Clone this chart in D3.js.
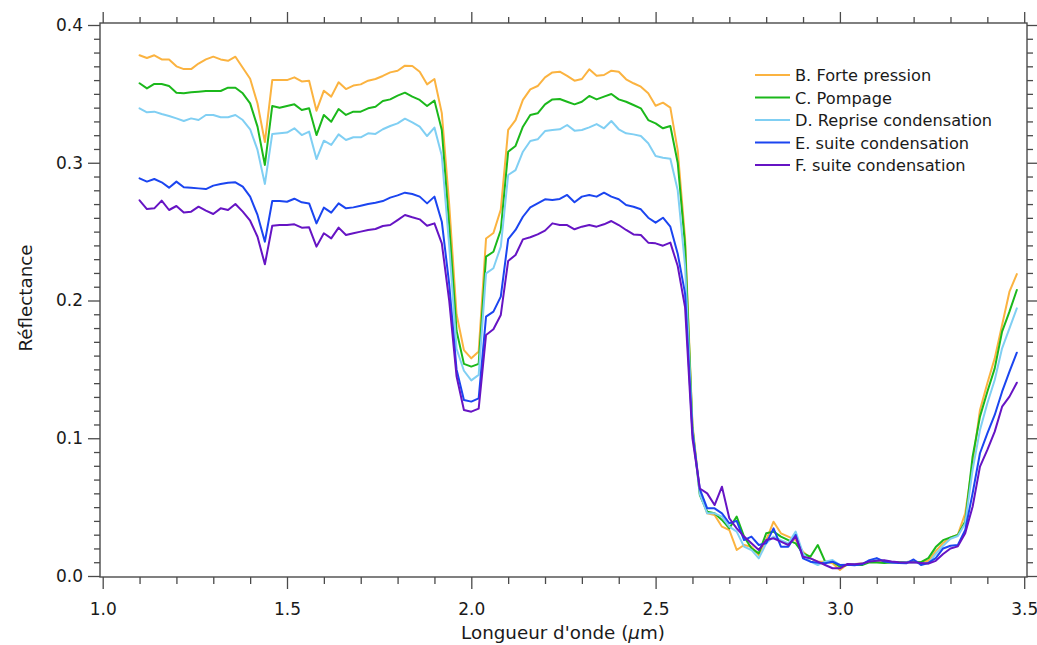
<!DOCTYPE html>
<html>
<head>
<meta charset="utf-8">
<script src="https://cdn.jsdelivr.net/npm/d3@7"></script>
<style>
  body { margin: 0; background: #fff; }
  svg { display: block; }
  text { font-family: "DejaVu Sans", Verdana, sans-serif; fill: #1a1a1a; }
</style>
</head>
<body>
<svg id="chart" width="1037" height="645"></svg>
<script>
// ---------- DATA ----------
const wavelengths = [
  1.10,1.12,1.14,1.16,1.18,1.20,1.22,1.24,1.26,1.28,1.30,1.32,1.34,1.36,1.38,1.40,1.42,1.44,1.46,1.48,
  1.50,1.52,1.54,1.56,1.58,1.60,1.62,1.64,1.66,1.68,1.70,1.72,1.74,1.76,1.78,1.80,1.82,1.84,1.86,1.88,
  1.90,1.92,1.94,1.96,1.98,2.00,2.02,2.04,2.06,2.08,2.10,2.12,2.14,2.16,2.18,2.20,2.22,2.24,2.26,2.28,
  2.30,2.32,2.34,2.36,2.38,2.40,2.42,2.44,2.46,2.48,2.50,2.52,2.54,2.56,2.58,2.60,2.62,2.64,2.66,2.68,
  2.70,2.72,2.74,2.76,2.78,2.80,2.82,2.84,2.86,2.88,2.90,2.92,2.94,2.96,2.98,3.00,3.02,3.04,3.06,3.08,
  3.10,3.12,3.14,3.16,3.18,3.20,3.22,3.24,3.26,3.28,3.30,3.32,3.34,3.36,3.38,3.40,3.42,3.44,3.46,3.48
];

const seriesNames = [
  "B. Forte pression",
  "C. Pompage",
  "D. Reprise condensation",
  "E. suite condensation",
  "F. suite condensation"
];
const seriesColors = ["#FBB340", "#1BB81B", "#80CFF3", "#1B45F0", "#6614C4"];

const valuesB = [
  0.378,0.376,0.378,0.375,0.375,0.370,0.368,0.368,0.372,0.375,0.377,0.375,0.374,0.377,0.369,0.361,0.343,0.315,0.360,0.360,
  0.360,0.362,0.359,0.3596,0.3378,0.3523,0.3480,0.3584,0.3535,0.3560,0.3569,0.3596,0.3608,0.3630,0.3656,0.3668,0.3705,0.3702,0.3661,0.3569,
  0.3608,0.336,0.270,0.190,0.164,0.158,0.163,0.245,0.249,0.266,0.3238,0.3310,0.3456,0.3533,0.3557,0.3620,0.3656,0.3661,0.3630,0.3596,
  0.3608,0.3678,0.3632,0.3637,0.3668,0.3661,0.3606,0.3577,0.3552,0.3504,0.3414,0.3436,0.3400,0.309,0.245,0.110,0.060,0.0455,0.0443,0.0358,
  0.0334,0.0189,0.0225,0.0213,0.0152,0.0261,0.0394,0.0310,0.0286,0.0261,0.0176,0.0128,0.0104,0.0104,0.0092,0.0044,0.0085,0.0087,0.0090,0.0102,
  0.0110,0.0110,0.0100,0.0097,0.0098,0.0100,0.0100,0.0110,0.0180,0.0240,0.0280,0.0300,0.0455,0.0818,0.1205,0.1399,0.1580,0.1822,0.2064,0.2192
];
const valuesC = [
  0.3577,0.3540,0.3572,0.3572,0.3557,0.3509,0.3504,0.3511,0.3516,0.3521,0.3521,0.3521,0.3545,0.3545,0.3504,0.3431,0.3262,0.2984,0.3412,0.3400,
  0.3412,0.3424,0.3383,0.3395,0.3201,0.3347,0.3298,0.3390,0.3347,0.3371,0.3371,0.3395,0.3407,0.3448,0.3460,0.3487,0.3509,0.3480,0.3456,0.3412,
  0.3451,0.3238,0.255,0.178,0.154,0.152,0.154,0.2318,0.2354,0.2512,0.3080,0.3122,0.3262,0.3347,0.3359,0.3424,0.3460,0.3463,0.3443,0.3424,
  0.3443,0.3485,0.3460,0.3480,0.3499,0.3460,0.3443,0.3419,0.3395,0.3310,0.3286,0.3250,0.3267,0.300,0.240,0.108,0.0588,0.0467,0.0455,0.0407,
  0.0346,0.0431,0.0286,0.0201,0.0164,0.0310,0.0322,0.0286,0.0261,0.0237,0.0164,0.0140,0.0225,0.0104,0.0104,0.0068,0.0080,0.0082,0.0080,0.0100,
  0.0098,0.0095,0.0098,0.0100,0.0102,0.0105,0.0100,0.0130,0.0210,0.0260,0.0280,0.0298,0.0395,0.0866,0.1157,0.1338,0.1507,0.1774,0.1919,0.2076
];
const valuesD = [
  0.3395,0.3366,0.3371,0.3354,0.3339,0.3322,0.3303,0.3322,0.3310,0.3347,0.3347,0.3330,0.3330,0.3347,0.3310,0.3243,0.3093,0.2846,0.3209,0.3214,
  0.3219,0.3250,0.3201,0.3226,0.3027,0.3160,0.3129,0.3206,0.3165,0.3185,0.3185,0.3214,0.3209,0.3243,0.3267,0.3286,0.3320,0.3293,0.3262,0.3194,
  0.3255,0.3050,0.240,0.165,0.149,0.142,0.146,0.2197,0.2234,0.2391,0.2911,0.2947,0.3080,0.3158,0.3170,0.3230,0.3238,0.3243,0.3274,0.3233,
  0.3238,0.3257,0.3281,0.3250,0.3303,0.3243,0.3214,0.3206,0.3194,0.3141,0.3049,0.3037,0.3029,0.280,0.225,0.106,0.0595,0.0455,0.0455,0.0431,
  0.0358,0.0322,0.0213,0.0189,0.0128,0.0237,0.0286,0.0261,0.0237,0.0322,0.0164,0.0104,0.0080,0.0104,0.0116,0.0080,0.0080,0.0085,0.0088,0.0110,
  0.0125,0.0110,0.0100,0.0095,0.0100,0.0098,0.0095,0.0090,0.0160,0.0220,0.0270,0.0290,0.0382,0.0770,0.1060,0.1254,0.1423,0.1653,0.1798,0.1943
];
const valuesE = [
  0.2887,0.2863,0.2882,0.2858,0.2819,0.2863,0.2822,0.2819,0.2814,0.2809,0.2834,0.2846,0.2855,0.2858,0.2826,0.2754,0.2621,0.2427,0.2722,0.2722,
  0.2717,0.2739,0.2713,0.2705,0.2560,0.2674,0.2638,0.2705,0.2669,0.2676,0.2688,0.2701,0.2710,0.2722,0.2747,0.2763,0.2783,0.2773,0.2754,0.2705,
  0.2754,0.2572,0.212,0.150,0.1278,0.1266,0.1290,0.1883,0.1919,0.2028,0.2446,0.2512,0.2608,0.2676,0.2705,0.2735,0.2730,0.2737,0.2766,0.2713,
  0.2754,0.2766,0.2754,0.2783,0.2754,0.2735,0.2693,0.2681,0.2662,0.2601,0.2565,0.2601,0.2536,0.234,0.205,0.104,0.0630,0.0491,0.0491,0.0455,
  0.0383,0.0400,0.0261,0.0286,0.0225,0.0237,0.0346,0.0213,0.0213,0.0298,0.0128,0.0104,0.0097,0.0092,0.0104,0.0080,0.0082,0.0078,0.0085,0.0115,
  0.0130,0.0105,0.0098,0.0095,0.0092,0.0120,0.0080,0.0095,0.0130,0.0200,0.0220,0.0225,0.0334,0.0600,0.0891,0.1036,0.1169,0.1338,0.1483,0.1621
];
const valuesF = [
  0.2727,0.2664,0.2669,0.2725,0.2657,0.2686,0.2638,0.2645,0.2681,0.2652,0.2628,0.2669,0.2657,0.2701,0.2645,0.2579,0.2463,0.2263,0.2543,0.2548,
  0.2548,0.2553,0.2529,0.2531,0.2391,0.2488,0.2451,0.2529,0.2475,0.2488,0.2500,0.2512,0.2519,0.2541,0.2548,0.2584,0.2621,0.2604,0.2589,0.2543,
  0.2560,0.2415,0.200,0.145,0.1205,0.1193,0.1215,0.1750,0.1791,0.1895,0.2287,0.2330,0.2444,0.2459,0.2480,0.2507,0.2560,0.2548,0.2548,0.2517,
  0.2536,0.2548,0.2536,0.2553,0.2577,0.2548,0.2512,0.2480,0.2475,0.2420,0.2415,0.2398,0.2420,0.225,0.195,0.100,0.0635,0.0600,0.0515,0.0648,
  0.0419,0.0346,0.0286,0.0237,0.0189,0.0261,0.0274,0.0249,0.0225,0.0286,0.0140,0.0128,0.0104,0.0080,0.0056,0.0056,0.0087,0.0085,0.0090,0.0105,
  0.0110,0.0115,0.0105,0.0100,0.0098,0.0100,0.0095,0.0090,0.0110,0.0160,0.0200,0.0215,0.0310,0.0503,0.0794,0.0915,0.1048,0.1229,0.1302,0.1403
];
const seriesValues = [valuesB, valuesC, valuesD, valuesE, valuesF];

const xMajorTicks = [1.0, 1.5, 2.0, 2.5, 3.0, 3.5];
const yMajorTicks = [0.0, 0.1, 0.2, 0.3, 0.4];
const xLabel = "Longueur d'onde (";
const xLabelUnit = "µ";
const xLabelEnd = "m)";
const yLabel = "Réflectance";

// ---------- LAYOUT ----------
const svg = d3.select("#chart");
const frame = { left: 100, right: 1027, top: 23, bottom: 577 };
const x = d3.scaleLinear().domain([1.0, 3.5]).range([102.7, 1024.2]);
const y = d3.scaleLinear().domain([0.0, 0.4]).range([576, 25]);

const xMinor = d3.range(10, 36).map(v => v / 10).filter(v => !xMajorTicks.some(m => Math.abs(m - v) < 1e-9));
const yMinor = d3.range(0, 41).map(v => v / 100).filter(v => !yMajorTicks.some(m => Math.abs(m - v) < 1e-9));

const axisColor = "#4a4a4a";
const fmt = d3.format(".1f");

function styleAxis(g) {
  g.select(".domain").remove();
  g.selectAll(".tick line").attr("stroke", axisColor).attr("stroke-width", 1.3);
  g.selectAll(".tick text").attr("font-size", 17).attr("fill", "#1a1a1a")
    .attr("font-family", "'DejaVu Sans', Verdana, sans-serif");
}

// bottom
svg.append("g").attr("transform", `translate(0,${frame.bottom})`)
  .call(d3.axisBottom(x).tickValues(xMajorTicks).tickFormat(fmt).tickSize(12).tickPadding(14))
  .call(styleAxis);
svg.append("g").attr("transform", `translate(0,${frame.bottom})`)
  .call(d3.axisBottom(x).tickValues(xMinor).tickFormat("").tickSize(7))
  .call(styleAxis);
// top
svg.append("g").attr("transform", `translate(0,${frame.top})`)
  .call(d3.axisTop(x).tickValues(xMajorTicks).tickFormat("").tickSize(11))
  .call(styleAxis);
svg.append("g").attr("transform", `translate(0,${frame.top})`)
  .call(d3.axisTop(x).tickValues(xMinor).tickFormat("").tickSize(6))
  .call(styleAxis);
// left
svg.append("g").attr("transform", `translate(${frame.left},0)`)
  .call(d3.axisLeft(y).tickValues(yMajorTicks).tickFormat(fmt).tickSize(12).tickPadding(5))
  .call(styleAxis);
svg.append("g").attr("transform", `translate(${frame.left},0)`)
  .call(d3.axisLeft(y).tickValues(yMinor).tickFormat("").tickSize(6))
  .call(styleAxis);
// right
svg.append("g").attr("transform", `translate(${frame.right},0)`)
  .call(d3.axisRight(y).tickValues(yMajorTicks).tickFormat("").tickSize(11))
  .call(styleAxis);
svg.append("g").attr("transform", `translate(${frame.right},0)`)
  .call(d3.axisRight(y).tickValues(yMinor).tickFormat("").tickSize(6))
  .call(styleAxis);

// frame
svg.append("rect")
  .attr("x", frame.left).attr("y", frame.top)
  .attr("width", frame.right - frame.left).attr("height", frame.bottom - frame.top)
  .attr("fill", "none").attr("stroke", axisColor).attr("stroke-width", 1.4);

// lines
const line = d3.line().x((d, i) => x(wavelengths[i])).y(d => y(d));
const plot = svg.append("g");
seriesValues.forEach((vals, k) => {
  plot.append("path")
    .datum(vals)
    .attr("d", line)
    .attr("fill", "none")
    .attr("stroke", seriesColors[k])
    .attr("stroke-width", 2)
    .attr("stroke-linejoin", "round")
    .attr("stroke-linecap", "round");
});

// axis titles
const xt = svg.append("text")
  .attr("x", 563).attr("y", 639)
  .attr("text-anchor", "middle").attr("font-size", 18.3);
xt.append("tspan").text(xLabel);
xt.append("tspan").attr("font-style", "italic").text(xLabelUnit);
xt.append("tspan").text(xLabelEnd);

svg.append("text")
  .attr("transform", `translate(32,298) rotate(-90)`)
  .attr("text-anchor", "middle").attr("font-size", 18.3)
  .text(yLabel);

// legend
const legend = svg.append("g").attr("transform", "translate(755,75)");
seriesNames.forEach((name, k) => {
  const gy = k * 22.5;
  legend.append("line")
    .attr("x1", 0).attr("x2", 35).attr("y1", gy).attr("y2", gy)
    .attr("stroke", seriesColors[k]).attr("stroke-width", 2);
  legend.append("text")
    .attr("x", 40).attr("y", gy + 6)
    .attr("font-size", 16.2)
    .text(name);
});
</script>
</body>
</html>
